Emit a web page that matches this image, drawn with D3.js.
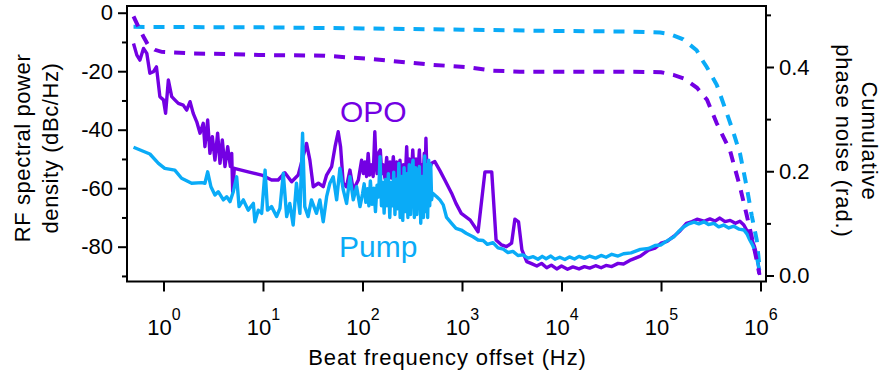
<!DOCTYPE html>
<html>
<head>
<meta charset="utf-8">
<script src="https://cdn.jsdelivr.net/npm/d3@7/dist/d3.min.js"></script>
<style>
  body { margin: 0; background: #fff; }
  svg { display: block; font-family: "Liberation Sans", Arial, sans-serif; }
</style>
</head>
<body>
<div id="chart"></div>
<script>
// RF spectral power density [Hz, dBc/Hz]
const opoPsd = [
  [0.50,-10.5],[0.54,-14.5],[0.58,-16.2],[0.63,-12.2],[0.68,-13.9],[0.73,-20.7],[0.79,-20.2],[0.85,-18.5],
  [0.92,-28.7],[1.0,-29.8],[1.05,-34.4],[1.12,-23.0],[1.21,-28.7],[1.30,-29.8],[1.41,-31],[1.58,-31.6],
  [1.71,-33.3],[1.85,-30.4],[1.99,-34.4],[2.16,-37.3],[2.33,-41.2],[2.51,-37.8],[2.61,-45.8],[2.78,-36.7],
  [2.93,-48.1],[3.1,-42.4],[3.29,-50.4],[3.5,-41.2],[3.7,-51.5],[3.9,-43.5],[4.15,-52.6],[4.42,-45.8],
  [4.7,-52.6],[4.85,-48.1],[4.96,-61.2],[5.15,-53.2],[7.1,-54.4],[9.7,-55.5],[12.2,-57.2],[14.2,-57.2],
  [16.6,-54.7],[19.4,-57.8],[22.6,-55.5],[27.4,-44.7],[29.6,-50.4],[32.0,-59.5],[36.0,-58.3],[40.3,-59.5],
  [43.6,-55.5],[49,-52.6],[53,-45.8],[57,-40.7],[60.2,-45.8],[64,-58.3],[69,-59.5],[74.8,-53.8],
  [80.8,-60.6],[90.8,-57.2],[98,-50.4],[102,-55],[106,-51],[110,-56],[114,-48.1],[118,-55.5],
  [123,-52],[128,-56],[133,-40.7],[137,-52],[140,-55],[145,-48],[151,-46.9],[156,-55],
  [162,-52],[168,-56.5],[175,-49.5],[182,-57],[189,-51],[196,-56.5],[204,-49.2],[212,-56],
  [220,-51],[229,-57],[238,-50.4],[247,-58],[257,-52],[267,-59.5],[278,-45.8],[286,-57],
  [295,-50],[307,-58.3],[320,-46.9],[332,-57],[345,-50],[358,-56.1],[373,-46.9],[384,-57.2],
  [395,-52],[405,-58],[418,-48],[427,-55],[434,-42.9],[445,-56],[457,-52.6],[470,-53.5],
  [494,-51.5],[533,-50.9],[600,-54],[672,-57.2],[786,-61.7],[870,-65.2],[983,-68.6],[1210,-70.9],
  [1450,-74.9],[1700,-54.4],[1990,-54.4],[2200,-77.7],[2500,-79.4],[2800,-80],[3150,-78.8],[3400,-70.6],
  [3700,-71.5],[4000,-81.1],[4470,-85.1],[5000,-85.8],[5640,-86.6],[6300,-85.7],[7100,-87.2],[7900,-86.3],
  [8950,-87.6],[10000,-86.6],[11500,-87.7],[13000,-86.9],[15000,-87.6],[17000,-86.8],[19200,-87.3],
  [22000,-86.5],[25000,-87.2],[28000,-86.4],[32000,-86.8],[37000,-85.7],[42000,-85.9],[50000,-84.5],
  [62000,-83.2],[75000,-81.2],[87000,-80.5],[100000,-78.8],[115000,-78.2],[135000,-76.4],[155000,-74.6],
  [180000,-72],[205000,-71.4],[230000,-70.6],[270000,-71.3],[310000,-70.5],[350000,-71.2],[390000,-70.2],
  [440000,-71.4],[495000,-71],[560000,-72],[620000,-71.3],[680000,-72.6],[725000,-74.3],[775000,-75.8],
  [820000,-77.7],[870000,-80],[925000,-83.4],[980000,-89.7]
];
const pumpPsd = [
  [0.50,-46.0],[0.73,-48.3],[0.89,-51.5],[1.03,-53.2],[1.30,-53.8],[1.52,-56.6],[1.92,-58.3],[2.42,-58.1],
  [2.61,-58.3],[2.78,-54.4],[3.0,-59.5],[3.29,-62.3],[3.55,-61.2],[4.0,-64],[4.32,-62.9],[4.66,-64.6],
  [5.03,-61.2],[5.44,-56.1],[5.75,-66.3],[6.35,-64],[7.1,-67.5],[8.0,-65.2],[8.3,-71.5],[8.97,-67.5],
  [9.7,-68.6],[10.5,-53.8],[11.1,-67.5],[12.2,-66.3],[13.7,-69.7],[14.8,-66.9],[16.0,-54.9],[17.3,-69.7],
  [18.6,-65.2],[20.1,-72.6],[21.7,-58.3],[23.5,-68.6],[25.0,-41.2],[26.3,-66.3],[28.4,-69.7],[30.7,-64],
  [34.5,-68.6],[37.3,-64],[40.3,-71.5],[43.6,-62.9],[47,-58.3],[50.8,-56.1],[55,-64],[59.3,-53.2],
  [64.1,-60.6],[69.2,-65.2],[74.8,-56.1],[80.8,-64],[87.3,-59.5],[94.4,-66.3],[100,-62],[104,-58.5],
  [108,-64.8],[112,-60.2],[116,-66],[120,-57.5],[125,-65.5],[130,-60],[135,-68],[140,-59],
  [145,-63],[150,-49.2],[155,-66],[160,-58],[165,-68.5],[170,-57],[176,-66],[182,-55],
  [188,-70],[194,-58],[200,-66],[206,-54.5],[212,-69],[218,-57],[225,-67],[232,-51.5],
  [239,-70],[246,-56],[254,-71],[262,-53],[270,-68],[278,-55],[286,-70],[295,-52],
  [304,-69],[313,-54],[322,-50.4],[332,-70],[342,-53],[352,-69],[362,-55],[373,-52.6],
  [385,-72],[397,-56],[410,-70],[422,-49],[432,-68],[442,-52],[452,-70],[463,-50.4],
  [474,-66],[485,-52],[495,-64],[505,-61.7],[557,-62.9],[600,-64],[648,-65.7],
  [700,-70],[786,-72],[870,-73.7],[983,-74.3],[1100,-75.4],[1290,-76.6],[1450,-77.7],[1630,-77.9],
  [1800,-79.2],[2050,-78.6],[2300,-80.4],[2600,-80.8],[2900,-82.0],[3250,-81.6],[3650,-83.0],[4100,-82.8],
  [4600,-83.9],[5200,-83.4],[5800,-84.3],[6400,-83.3],[7000,-84.1],[7800,-83.2],[8600,-84.3],[9600,-83.6],
  [10800,-84.4],[12000,-83.5],[13500,-84.2],[15000,-83.3],[17000,-84.0],[19200,-83.2],[22000,-83.9],
  [25000,-83.0],[28000,-83.6],[32000,-82.6],[37000,-83.2],[42000,-82.4],[50000,-82.1],[62000,-80.9],
  [75000,-80.6],[87000,-79.6],[100000,-79.4],[115000,-78.0],[135000,-76.6],[150000,-74.8],[170000,-73.2],
  [190000,-72.2],[215000,-71.6],[240000,-72.2],[270000,-71.5],[300000,-72.4],[340000,-72.0],[380000,-73.2],
  [425000,-72.6],[480000,-73.6],[540000,-73.0],[610000,-74.0],[680000,-74.3],[730000,-75.6],[780000,-77.7],
  [830000,-79.4],[870000,-81.1],[910000,-83.2],[940000,-85.7],[980000,-88]
];
// Cumulative phase noise [Hz, rad]
const opoCum = [
  [0.50,0.497],[0.56,0.477],[0.63,0.458],[0.70,0.442],[0.82,0.433],[0.96,0.429],[1.9,0.426],[4.2,0.425],
  [9,0.423],[42,0.4217],[128,0.415],[515,0.404],[1100,0.400],[2000,0.393],[3800,0.391],[52700,0.391],
  [100000,0.390],[133000,0.385],[170000,0.378],[230000,0.360],[290000,0.337],[363000,0.292],
  [493000,0.240],[622000,0.170],[726000,0.116],[816000,0.074],[902000,0.035],[973000,0.003]
];
const pumpCum = [
  [0.50,0.477],[10,0.476],[100,0.474],[1000,0.4716],[10000,0.469],[50000,0.468],[98000,0.466],
  [123000,0.463],[167000,0.453],[228000,0.432],[266000,0.41],[288000,0.40],[363000,0.366],
  [457000,0.312],[533000,0.275],[622000,0.234],[726000,0.170],[816000,0.115],[916000,0.068],[973000,0.02]
];
const xTicks = [1, 10, 100, 1000, 10000, 100000, 1000000];
const yLeftTicks = [0, -20, -40, -60, -80];
const yLeftMinor = [-10, -30, -50, -70, -90];
const yRightTicks = [0, 0.2, 0.4];
const yRightMinor = [0.1, 0.3, 0.5];

const width = 883, height = 376;
const plotLeft = 127, plotRight = 766, plotTop = 6, plotBottom = 281.5;
const purple = '#7300e3';
const cyan = '#0aabf7';

const svg = d3.select('#chart').append('svg')
  .attr('width', width)
  .attr('height', height);

const x = d3.scaleLog().domain([0.43, 1.135e6]).range([plotLeft, plotRight]);
const yL = d3.scaleLinear().domain([-91.9, 2.3]).range([plotBottom, plotTop]);
const yR = d3.scaleLinear().domain([-0.0115, 0.517]).range([plotBottom, plotTop]);

svg.append('defs').append('clipPath').attr('id', 'plot')
  .append('rect').attr('x', plotLeft).attr('y', plotTop)
  .attr('width', plotRight - plotLeft).attr('height', plotBottom - plotTop);

const plot = svg.append('g').attr('clip-path', 'url(#plot)');

const psdLine = d3.line().x(d => x(d[0])).y(d => yL(d[1]));
const cumLine = d3.line().x(d => x(d[0])).y(d => yR(d[1]));

plot.append('path').datum(opoPsd).attr('d', psdLine)
  .attr('fill', 'none').attr('stroke', purple).attr('stroke-width', 3.4).attr('stroke-linejoin', 'round');
plot.append('path').datum(pumpPsd).attr('d', psdLine)
  .attr('fill', 'none').attr('stroke', cyan).attr('stroke-width', 3.4).attr('stroke-linejoin', 'round');
plot.append('path').datum(pumpCum).attr('d', cumLine)
  .attr('fill', 'none').attr('stroke', cyan).attr('stroke-width', 4).attr('stroke-dasharray', '11,9');
plot.append('path').datum(opoCum).attr('d', cumLine)
  .attr('fill', 'none').attr('stroke', purple).attr('stroke-width', 4).attr('stroke-dasharray', '11,9');

// frame
svg.append('rect')
  .attr('x', plotLeft).attr('y', plotTop)
  .attr('width', plotRight - plotLeft).attr('height', plotBottom - plotTop)
  .attr('fill', 'none').attr('stroke', '#000').attr('stroke-width', 2);

function styleAxis(g) {
  g.select('.domain').remove();
  g.selectAll('.tick line').attr('stroke', '#000').attr('stroke-width', 2);
  g.selectAll('.tick text').attr('fill', '#000').attr('font-size', 22)
    .attr('font-family', '"Liberation Sans", Arial, sans-serif');
}

// left axis
svg.append('g').attr('transform', `translate(${plotLeft},0)`)
  .call(d3.axisLeft(yL).tickValues(yLeftTicks).tickSize(9).tickPadding(5).tickFormat(d => String(d)))
  .call(styleAxis);
svg.append('g').attr('transform', `translate(${plotLeft},0)`)
  .call(d3.axisLeft(yL).tickValues(yLeftMinor).tickSize(5).tickFormat(''))
  .call(styleAxis);

// right axis
svg.append('g').attr('transform', `translate(${plotRight},0)`)
  .call(d3.axisRight(yR).tickValues(yRightTicks).tickSize(8).tickPadding(5).tickFormat(d3.format('.1f')))
  .call(styleAxis);
svg.append('g').attr('transform', `translate(${plotRight},0)`)
  .call(d3.axisRight(yR).tickValues(yRightMinor).tickSize(5).tickFormat(''))
  .call(styleAxis);

// bottom axis with 10^n labels
const xAxis = svg.append('g').attr('transform', `translate(0,${plotBottom})`)
  .call(d3.axisBottom(x).tickValues(xTicks).tickSize(10).tickFormat(d => d))
  .call(styleAxis);
xAxis.selectAll('.tick text')
  .attr('y', 53.5).attr('dy', 0)
  .each(function(d) {
    const t = d3.select(this);
    t.text(null);
    t.append('tspan').text('10');
    t.append('tspan').attr('dy', -15).attr('font-size', 16).text(Math.round(Math.log10(d)));
  });

// axis titles
svg.append('text')
  .attr('x', 447.5).attr('y', 365)
  .attr('text-anchor', 'middle').attr('font-size', 22).attr('letter-spacing', 0.9)
  .text('Beat frequency offset (Hz)');

const yTitle = svg.append('g').attr('transform', 'translate(0,148) rotate(-90)')
  .attr('font-size', 22).attr('text-anchor', 'middle').attr('letter-spacing', 0.6);
yTitle.append('text').attr('x', 0).attr('y', 29.5).text('RF spectral power');
yTitle.append('text').attr('x', 0).attr('y', 57.5).text('density (dBc/Hz)');

const y2Title = svg.append('g').attr('transform', 'translate(883,141) rotate(90)')
  .attr('font-size', 22).attr('text-anchor', 'middle').attr('letter-spacing', 0.9);
y2Title.append('text').attr('x', 0).attr('y', 21).text('Cumulative');
y2Title.append('text').attr('x', 0).attr('y', 47).text('phase noise (rad.)');

// series labels
svg.append('text').attr('x', 340).attr('y', 121.5)
  .attr('font-size', 30).attr('fill', purple).text('OPO');
svg.append('text').attr('x', 339).attr('y', 257)
  .attr('font-size', 30).attr('fill', cyan).text('Pump');
</script>
</body>
</html>
